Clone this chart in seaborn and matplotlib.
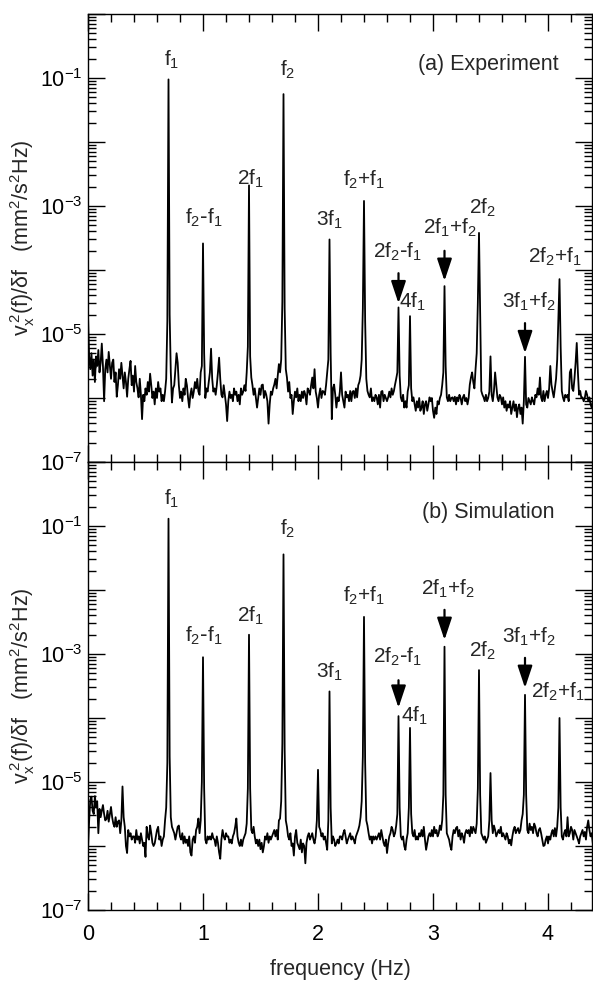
import numpy as np
import pandas as pd
import matplotlib
matplotlib.use("Agg")
import matplotlib.pyplot as plt
import seaborn as sns
from matplotlib.ticker import FixedLocator, FuncFormatter, MultipleLocator, NullFormatter

# ---- data ----
freq_step = 0.01  # Hz, spectral resolution

# log10 of the noise floor, 0.00 ... 4.40 Hz (peak bins are overwritten below)
exp_noise_log = [
    -4.70, -5.35, -5.55, -5.30, -5.65, -5.40, -5.75, -5.35, -5.50, -5.25,
    -5.60, -5.45, -5.15, -5.50, -6.05, -5.55, -5.40, -5.60, -5.28, -5.50,
    -5.70, -5.45, -5.40, -5.75, -5.60, -5.98, -5.80, -5.55, -5.70, -5.45,
    -5.65, -5.85, -5.60, -5.75, -5.98, -5.70, -5.55, -5.42, -5.80, -5.65,
    -5.90, -5.50, -5.75, -5.85, -5.99, -5.70, -5.95, -6.33, -5.95, -6.05,
    -5.85, -5.95, -5.75, -5.90, -5.62, -5.80, -6.00, -5.90, -6.10, -5.85,
    -6.00, -5.75, -5.90, -5.85, -6.05, -5.95, -6.05, -5.90, -5.70, -4.80,
    -6.00, -4.70, -5.60, -6.07, -5.85, -5.80, -5.55, -5.30, -5.45, -5.80,
    -6.00, -5.90, -6.05, -5.85, -5.95, -5.70, -5.80, -6.00, -6.15, -5.95,
    -5.85, -6.00, -5.90, -5.75, -5.85, -5.70, -5.90, -5.95, -5.60, -5.50,
    -6.00, -5.30, -6.00, -5.85, -5.90, -5.75, -5.60, -5.23, -5.70, -5.90,
    -5.85, -5.95, -5.80, -5.60, -5.37, -5.70, -5.95, -5.99, -5.80, -5.95,
    -6.10, -6.36, -6.05, -5.90, -6.00, -5.95, -6.05, -5.85, -5.95, -5.90,
    -6.05, -5.95, -6.10, -5.85, -5.95, -5.90, -5.80, -5.89, -5.60, -5.20,
    -6.00, -5.35, -5.68, -5.80, -5.95, -5.85, -6.00, -6.15, -6.00, -5.85,
    -5.95, -5.80, -5.79, -6.00, -5.89, -5.95, -6.05, -6.40, -6.10, -5.90,
    -5.95, -5.85, -5.79, -5.70, -5.85, -5.65, -5.47, -5.60, -5.40, -4.50,
    -6.00, -4.60, -5.55, -5.68, -5.90, -5.75, -6.00, -5.95, -6.25, -6.05,
    -5.90, -5.99, -5.85, -6.05, -5.95, -6.05, -5.90, -6.00, -5.89, -5.95,
    -6.10, -5.85, -5.89, -5.95, -5.80, -5.68, -5.85, -5.55, -5.90, -6.00,
    -6.15, -5.95, -5.85, -6.00, -5.89, -5.90, -5.95, -5.80, -5.60, -5.40,
    -6.00, -5.30, -6.33, -5.85, -5.79, -5.95, -6.15, -5.99, -6.05, -5.90,
    -5.60, -5.95, -6.05, -6.15, -5.90, -5.99, -5.95, -6.05, -5.89, -6.05,
    -5.90, -5.89, -6.00, -5.85, -5.99, -5.80, -5.75, -5.65, -5.40, -4.60,
    -6.00, -4.80, -5.70, -5.89, -5.95, -5.99, -5.85, -6.05, -5.99, -6.05,
    -5.95, -5.99, -6.10, -5.95, -6.15, -5.90, -5.89, -6.05, -5.95, -6.00,
    -6.05, -5.99, -5.90, -5.99, -5.85, -5.95, -5.89, -5.79, -5.70, -5.60,
    -6.00, -5.65, -5.99, -6.05, -5.95, -6.15, -6.05, -6.15, -5.90, -5.80,
    -6.00, -5.85, -6.05, -5.99, -6.10, -6.20, -6.05, -6.15, -6.00, -6.20,
    -6.15, -6.05, -6.25, -6.10, -6.05, -6.20, -6.10, -5.99, -6.05, -6.00,
    -6.20, -6.31, -6.15, -6.25, -6.05, -6.10, -6.00, -5.95, -5.80, -5.60,
    -6.00, -5.50, -5.99, -6.05, -5.95, -6.05, -6.00, -5.99, -6.05, -5.98,
    -6.10, -5.99, -6.05, -5.95, -6.00, -6.10, -5.99, -5.95, -6.05, -6.00,
    -6.10, -6.00, -5.79, -5.68, -5.60, -5.75, -5.85, -5.55, -5.30, -4.50,
    -6.00, -4.70, -5.89, -5.95, -5.99, -6.05, -5.95, -6.05, -6.00, -5.90,
    -5.35, -5.95, -6.05, -5.89, -5.60, -5.80, -5.99, -6.05, -5.95, -5.99,
    -6.10, -5.99, -6.15, -6.05, -6.20, -6.10, -6.15, -6.05, -6.25, -6.15,
    -6.05, -6.20, -6.10, -6.30, -6.15, -6.10, -6.25, -6.15, -6.40, -6.05,
    -6.00, -6.10, -6.15, -6.00, -6.05, -6.10, -5.99, -6.05, -6.10, -5.95,
    -5.99, -5.85, -5.95, -5.68, -5.99, -6.05, -5.89, -6.05, -5.95, -5.89,
    -6.00, -5.85, -5.50, -5.79, -5.90, -5.99, -5.85, -5.70, -5.40, -4.80,
    -6.00, -5.20, -5.89, -5.99, -6.05, -5.95, -5.99, -5.95, -6.05, -5.60,
    -5.55, -5.85, -5.89, -5.70, -5.45, -5.14, -5.60, -5.95, -5.89, -6.00,
    -5.99, -6.05, -6.00, -5.89, -5.95, -6.05, -5.99, -6.10, -6.15, -6.05,
    -6.00,
]

sim_noise_log = [
    -6.06, -5.60, -5.28, -5.23, -5.45, -5.50, -5.22, -5.40, -5.30, -5.80,
    -5.42, -5.55, -5.45, -5.36, -5.50, -5.60, -5.58, -5.45, -5.62, -5.50,
    -5.39, -5.55, -5.65, -5.70, -5.55, -5.70, -5.62, -5.60, -5.80, -5.60,
    -5.07, -5.55, -5.70, -6.00, -6.11, -5.75, -5.85, -5.80, -5.90, -5.85,
    -5.85, -5.95, -5.75, -5.90, -5.85, -5.96, -5.80, -5.90, -6.00, -5.95,
    -6.17, -5.70, -5.85, -5.90, -5.68, -5.80, -5.95, -6.00, -5.96, -5.85,
    -5.75, -5.70, -5.90, -5.85, -6.00, -5.90, -5.85, -5.60, -5.40, -4.70,
    -6.00, -4.60, -5.55, -5.70, -5.75, -5.80, -5.90, -5.80, -5.70, -5.68,
    -5.85, -5.90, -5.80, -5.96, -5.85, -5.95, -5.90, -6.00, -5.85, -6.10,
    -6.15, -5.90, -5.85, -5.95, -5.75, -5.70, -5.57, -5.80, -5.60, -5.00,
    -6.00, -5.10, -5.90, -5.96, -5.85, -5.90, -5.85, -5.90, -5.80, -5.88,
    -5.90, -6.00, -5.85, -5.95, -6.10, -6.20, -5.90, -5.75, -5.85, -5.90,
    -5.80, -5.85, -5.85, -5.95, -5.90, -5.96, -5.85, -5.80, -5.70, -5.57,
    -5.85, -5.95, -6.00, -5.90, -6.00, -5.90, -5.85, -5.80, -5.65, -5.10,
    -6.00, -5.10, -5.75, -5.80, -5.70, -5.85, -5.96, -5.90, -6.00, -5.90,
    -6.05, -5.95, -6.10, -6.00, -5.85, -5.90, -5.80, -5.95, -5.85, -5.90,
    -5.85, -5.80, -5.75, -5.85, -5.75, -5.90, -5.60, -5.57, -5.30, -4.40,
    -6.00, -4.50, -5.60, -5.70, -5.85, -5.90, -5.80, -6.00, -5.96, -6.15,
    -5.85, -5.75, -5.95, -6.00, -6.05, -5.90, -6.10, -5.96, -6.00, -6.27,
    -5.95, -5.85, -5.80, -5.90, -5.85, -5.80, -5.90, -5.96, -5.85, -5.60,
    -4.81, -5.70, -5.75, -5.85, -5.80, -5.90, -5.85, -5.95, -6.06, -5.60,
    -6.00, -5.40, -5.96, -5.85, -5.90, -6.00, -5.96, -5.90, -5.96, -5.85,
    -5.85, -5.90, -5.80, -5.75, -5.85, -5.96, -5.90, -5.85, -5.80, -5.90,
    -5.85, -5.90, -5.96, -5.85, -5.80, -5.75, -5.68, -5.55, -5.30, -4.60,
    -6.00, -4.70, -5.60, -5.68, -5.80, -5.90, -5.85, -5.96, -5.85, -5.90,
    -5.85, -5.90, -5.85, -5.80, -5.90, -5.75, -5.85, -5.95, -6.00, -5.90,
    -6.11, -5.96, -5.85, -5.80, -5.70, -5.75, -5.85, -5.80, -5.68, -5.50,
    -6.00, -5.40, -5.85, -5.90, -5.85, -6.00, -6.06, -5.90, -5.80, -5.40,
    -6.00, -5.50, -5.80, -5.85, -5.75, -5.90, -5.85, -5.90, -5.80, -5.85,
    -5.75, -5.85, -5.70, -5.90, -6.06, -5.95, -5.85, -5.80, -5.85, -5.75,
    -5.85, -5.70, -5.80, -5.75, -5.85, -5.80, -5.68, -5.75, -5.60, -5.20,
    -6.00, -5.20, -5.80, -5.85, -5.90, -6.00, -6.06, -5.85, -5.75, -5.80,
    -5.72, -5.70, -5.85, -5.75, -5.90, -5.80, -5.85, -5.95, -5.80, -5.75,
    -5.80, -5.75, -5.85, -5.70, -5.80, -5.70, -5.75, -5.80, -5.65, -5.10,
    -6.00, -5.20, -5.80, -5.85, -5.90, -5.85, -5.95, -5.90, -5.85, -5.60,
    -4.86, -5.60, -5.80, -5.68, -5.75, -5.85, -5.80, -5.75, -5.80, -5.70,
    -5.85, -5.80, -5.85, -5.90, -5.80, -5.85, -5.96, -5.90, -5.99, -5.85,
    -5.75, -5.70, -5.80, -5.75, -5.72, -5.80, -5.75, -5.60, -5.50, -5.20,
    -6.00, -5.20, -5.75, -5.80, -5.65, -5.75, -5.70, -5.80, -5.65, -5.70,
    -5.80, -5.85, -5.75, -5.72, -5.80, -5.90, -6.00, -5.99, -5.90, -5.85,
    -5.96, -5.85, -5.90, -5.80, -5.75, -5.85, -5.72, -5.85, -5.70, -5.40,
    -6.00, -5.40, -5.85, -5.90, -5.80, -5.75, -5.85, -5.55, -5.85, -5.80,
    -5.70, -5.75, -5.90, -5.75, -5.80, -5.85, -5.90, -5.96, -5.85, -5.80,
    -5.75, -5.85, -5.78, -5.90, -5.70, -5.60, -5.75, -5.85, -5.80, -5.96,
    -5.85,
]

# labelled spectral lines (Hz) and their heights (mm^2/s^2Hz)
peak_freq = [0.70, 1.00, 1.40, 1.70, 2.10, 2.40, 2.70, 2.80, 3.10, 3.40, 3.80, 4.10]
exp_peak = [9.5e-2, 2.6e-4, 2.1e-3, 5.6e-2, 3.0e-4, 1.2e-3, 2.6e-5, 1.9e-5, 5.6e-5, 3.8e-4, 4.4e-6, 7.2e-5]
sim_peak = [1.3e-1, 8.9e-4, 2.0e-3, 3.6e-2, 2.6e-4, 3.8e-3, 1.07e-4, 7.0e-5, 1.3e-3, 5.6e-4, 2.3e-4, 1.0e-4]
peak_names = ["f_1", r"f_2\text{-}f_1", "2f_1", "f_2", "3f_1", "f_2{+}f_1",
              r"2f_2\text{-}f_1", "4f_1", "2f_1{+}f_2", "2f_2", "3f_1{+}f_2", "2f_2{+}f_1"]

# label anchor (freq, log10 value) for each line, per panel
exp_label_pos = [(0.73, -0.81), (1.01, -3.28), (1.41, -2.66), (1.74, -0.97), (2.10, -3.31), (2.40, -2.69),
                 (2.69, -3.81), (2.82, -4.59), (3.15, -3.44), (3.43, -3.12), (3.83, -4.59), (4.06, -3.89)]
sim_label_pos = [(0.73, -0.67), (1.01, -2.81), (1.41, -2.50), (1.74, -1.14), (2.10, -3.37), (2.40, -2.19),
                 (2.69, -3.14), (2.84, -4.06), (3.13, -2.08), (3.43, -3.05), (3.83, -2.83), (4.09, -3.69)]
# arrows: (freq, log10 tail, log10 tip)
exp_arrows = [(2.70, -4.05, -4.52), (3.10, -3.70, -4.17), (3.80, -4.83, -5.30)]
sim_arrows = [(2.70, -3.41, -3.84), (3.10, -2.31, -2.78), (3.80, -3.06, -3.53)]


def build_spectrum(noise_log, peaks):
    freq = np.arange(len(noise_log)) * freq_step
    psd = 10.0 ** np.array(noise_log)
    idx = np.rint(np.array(peak_freq) / freq_step).astype(int)
    psd[idx] = peaks
    return pd.DataFrame({"freq": freq, "psd": psd})


sns.set_style("ticks")
plt.rcParams["font.family"] = ["Liberation Sans", "DejaVu Sans"]
plt.rcParams["mathtext.default"] = "regular"

fig = plt.figure(figsize=(5.93, 9.81), dpi=100)
W, H = 593.0, 981.0
ax_top = fig.add_axes([88 / W, 1 - 462 / H, 504 / W, 448 / H])
ax_bot = fig.add_axes([88 / W, 1 - 910 / H, 504 / W, 448 / H])


def log_fmt(v, pos):
    e = int(round(np.log10(v)))
    if e % 2 != 0:
        return r"$\mathregular{10^{%d}}$" % e
    return ""


def style_axis(ax, show_x):
    ax.set_yscale("log")
    ax.set_xlim(0, 504 / 115)
    ax.set_ylim(1e-7, 1)
    ax.yaxis.set_major_locator(FixedLocator([10.0 ** e for e in range(-7, 1)]))
    ax.yaxis.set_minor_locator(FixedLocator([m * 10.0 ** e for e in range(-7, 0) for m in range(2, 10)]))
    ax.yaxis.set_major_formatter(FuncFormatter(log_fmt))
    ax.yaxis.set_minor_formatter(NullFormatter())
    ax.xaxis.set_major_locator(MultipleLocator(1))
    ax.xaxis.set_minor_locator(MultipleLocator(0.2))
    ax.tick_params(which="both", direction="in", top=True, right=True, width=1.0, labelsize=15.5, colors="k")
    ax.tick_params(which="major", length=12)
    ax.tick_params(axis="y", which="major", pad=4)
    ax.tick_params(axis="x", which="major", pad=10)
    ax.tick_params(which="minor", length=6)
    for s in ax.spines.values():
        s.set_linewidth(1.0)
        s.set_color("k")
    if not show_x:
        ax.tick_params(axis="x", labelbottom=False)
    ax.set_ylabel(r"$\mathregular{v_x^{\,2}(f)/\delta f}$   $\mathregular{(mm^2/s^2Hz)}$", fontsize=15.5, labelpad=2)


panels = [
    (ax_top, exp_noise_log, exp_peak, exp_label_pos, exp_arrows, "(a) Experiment", False),
    (ax_bot, sim_noise_log, sim_peak, sim_label_pos, sim_arrows, "(b) Simulation", True),
]

for ax, noise, peaks, lab_pos, arrows, title, show_x in panels:
    spec = build_spectrum(noise, peaks)
    sns.lineplot(data=spec, x="freq", y="psd", ax=ax, color="k", lw=1.3, estimator=None, sort=False)
    style_axis(ax, show_x)
    ax.set_xlabel("frequency (Hz)" if show_x else "", fontsize=15.5, labelpad=10)
    for name, (fx, ly) in zip(peak_names, lab_pos):
        ax.text(fx, 10.0 ** ly, r"$\mathregular{%s}$" % name, ha="center", va="baseline", fontsize=15)
    for fx, tail, tip in arrows:
        ax.annotate("", xy=(fx, 10.0 ** tip), xytext=(fx, 10.0 ** tail),
                    arrowprops=dict(arrowstyle="-|>,head_length=0.9,head_width=0.3", color="k",
                                    lw=1.6, mutation_scale=15, shrinkA=0, shrinkB=0))
    ax.text(0.794, 0.875, title, transform=ax.transAxes, ha="center", va="baseline", fontsize=15.5)

fig.savefig("out.png", dpi=100)
